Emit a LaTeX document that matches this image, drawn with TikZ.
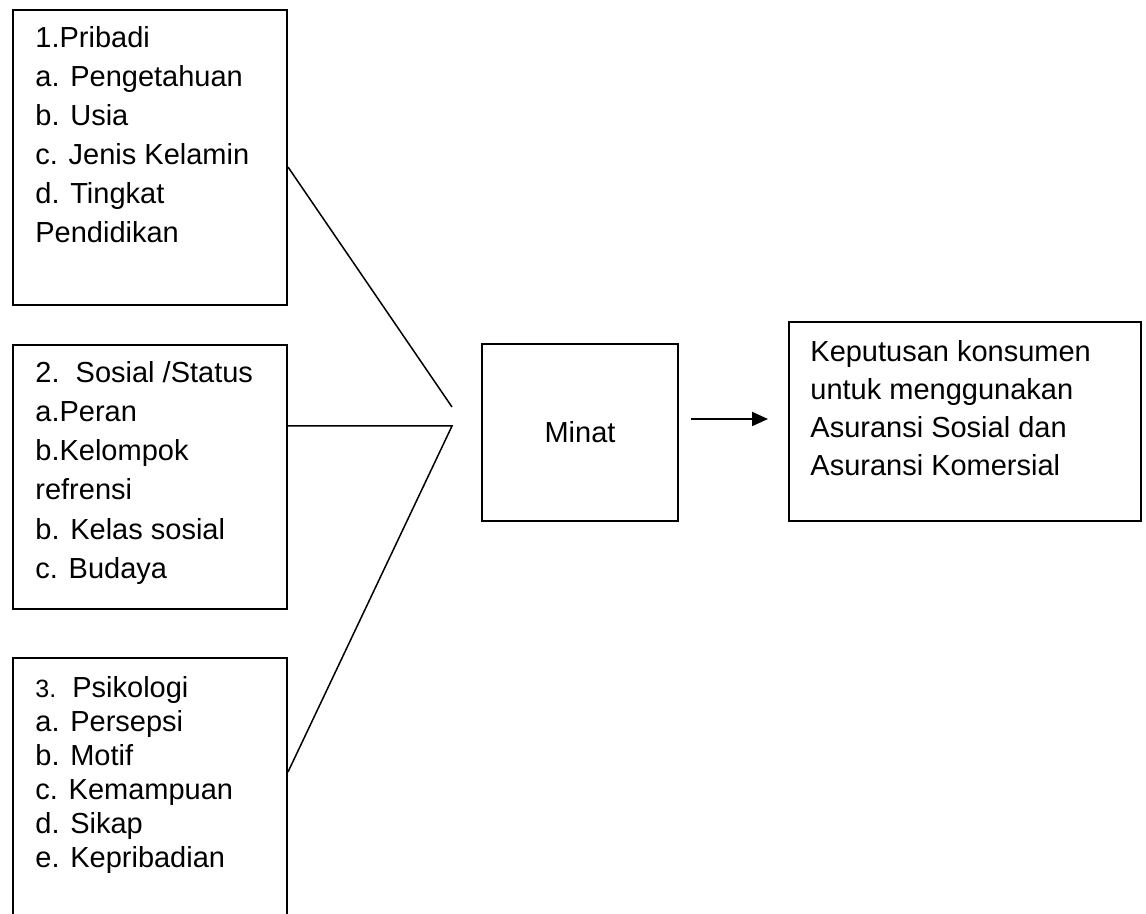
\documentclass[tikz,border=0pt]{standalone}
\usepackage{fontspec}
\setmainfont{Liberation Sans}
\usetikzlibrary{arrows.meta}

\tikzset{
  box/.style={draw, line width=1pt, rectangle, inner sep=0pt},
  item/.style={anchor=base west, inner sep=0pt, font=\fontsize{14.5}{17}\selectfont},
  link/.style={line width=0.75pt},
  arr/.style={line width=1pt, -{Triangle[length=8pt,width=7pt]}}
}

\begin{document}
\begin{tikzpicture}[x=0.5pt,y=-0.5pt, line join=miter]

% -----------------------------
% Parameters
% -----------------------------
\def\tx{35}        % left edge of the list texts
\def\gap{39}       % line pitch, boxes 1 and 2
\def\gapp{34}      % line pitch, box 3

% Page frame (clips the open bottom of box 3)
\fill[white] (0,0) rectangle (1146,914);
\clip (0,0) rectangle (1146,914);

% -----------------------------
% Boxes
% -----------------------------
\node[box, minimum width=137pt, minimum height=147.5pt] (pribadi)   at (150,157.5) {};
\node[box, minimum width=137pt, minimum height=132pt]   (sosial)    at (150,477) {};
\node[box, minimum width=137pt, minimum height=136pt]   (psikologi) at (150,794) {};
\node[box, minimum width=98pt,  minimum height=88.5pt]  (minat)     at (580,432.5)
  {\fontsize{14.5}{17}\selectfont Minat};
\node[box, minimum width=176pt, minimum height=99.5pt]  (keputusan) at (965,421.5) {};

% -----------------------------
% Lists (one baseline per line)
% -----------------------------
\foreach \t [count=\i from 0] in {1.Pribadi, a. Pengetahuan, b. Usia,
    c. Jenis Kelamin, d. Tingkat, Pendidikan} {%
  \node[item] (pribadi\i) at (\tx,48+\gap*\i) {\t};%
}

\foreach \t [count=\i from 0] in {2.~~Sosial /Status, a.Peran, b.Kelompok,
    refrensi, b. Kelas sosial, c. Budaya} {%
  \node[item] (sosial\i) at (\tx,383+\gap*\i) {\t};%
}

\foreach \t [count=\i from 0] in {{{\fontsize{12.5}{15}\selectfont 3.}~~Psikologi},
    a. Persepsi, b. Motif, c. Kemampuan, d. Sikap, e. Kepribadian} {%
  \node[item] (psikologi\i) at (\tx,697+\gapp*\i) {\t};%
}

\foreach \t [count=\i from 0] in {Keputusan konsumen, untuk menggunakan,
    Asuransi Sosial dan, Asuransi Komersial} {%
  \node[item] (keputusan\i) at (810,362+38*\i) {\t};%
}

% -----------------------------
% Connectors
% -----------------------------
\coordinate (join1) at (452,407);
\coordinate (join2) at (452,426);

\draw[link] ([yshift=-4.75pt]pribadi.east) -- (join1);
\draw[link] ([yshift=25.5pt]sosial.east) -- (join2) -- ([yshift=11pt]psikologi.east);

\draw[arr, shorten <=6pt, shorten >=10pt]
  ([yshift=6.75pt]minat.east) -- ([yshift=6.75pt]minat.east -| keputusan.west);

\end{tikzpicture}
\end{document}
